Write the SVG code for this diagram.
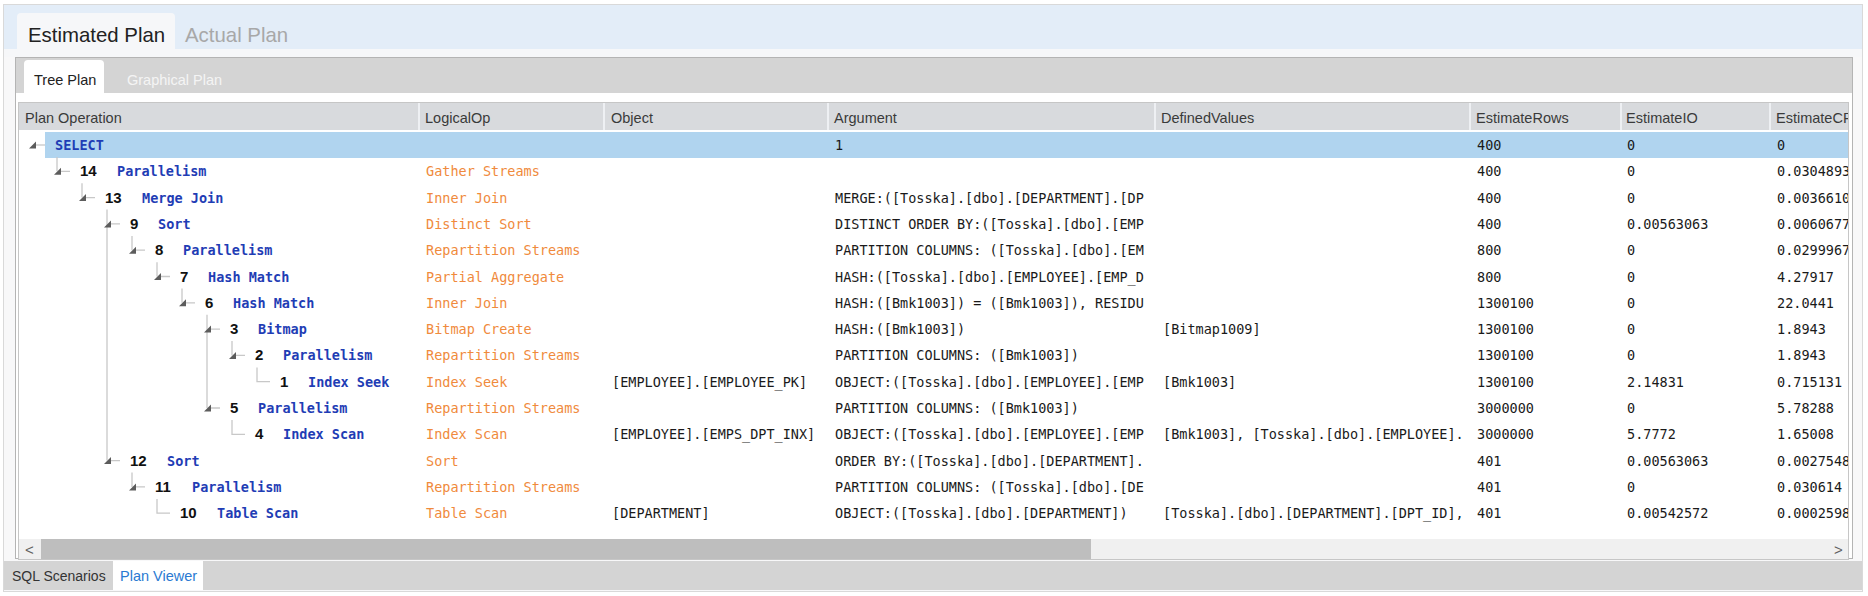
<svg xmlns="http://www.w3.org/2000/svg" width="1868" height="596" viewBox="0 0 1868 596">
<defs>
<style>
.mono{font-family:"DejaVu Sans Mono","Liberation Mono",monospace;font-size:13.5px;fill:#1a1a1a}
.name{font-family:"DejaVu Sans Mono","Liberation Mono",monospace;font-size:13.5px;font-weight:bold;fill:#1f3db5}
.num{font-family:"Liberation Sans",Arial,sans-serif;font-size:15px;font-weight:bold;fill:#111}
.op{fill:#f08a3c}
.hdr{font-family:"Liberation Sans",Arial,sans-serif;font-size:14.5px;fill:#3a3a3a}
.ui{font-family:"Liberation Sans",Arial,sans-serif}
.tl{stroke:#c8c8c8;stroke-width:1.3;fill:none}
.tri{fill:#5c5c5c}
.sep{stroke:#eef0f3;stroke-width:2}
</style>
<clipPath id="cArg"><rect x="828" y="100" width="324" height="440"/></clipPath>
<clipPath id="cDef"><rect x="1155" y="100" width="312" height="440"/></clipPath>
<clipPath id="cCpu"><rect x="1770" y="100" width="78" height="440"/></clipPath>
</defs>

<!-- chrome -->
<rect x="0" y="0" width="1868" height="596" fill="#ffffff"/>
<rect x="3.5" y="4.5" width="1859" height="587" fill="#f8f8f9" stroke="#d9d9d9"/>
<rect x="4" y="5" width="1858" height="44" fill="#e3edf8"/>
<path d="M17,49 V17 Q17,13 21,13 H171 Q175,13 175,17 V49 Z" fill="#f6f7f9"/>
<rect x="4" y="49" width="1858" height="8" fill="#f6f7f9"/>
<text class="ui" x="28" y="42" font-size="20.4" fill="#222">Estimated Plan</text>
<text class="ui" x="185" y="42" font-size="20.4" fill="#a8a8a8">Actual Plan</text>

<rect x="15.5" y="57.5" width="1837" height="501" fill="#ffffff" stroke="#b4b4b4"/>
<rect x="16" y="58" width="1836" height="35" fill="#d4d4d4"/>
<path d="M24,93 V64 Q24,60 28,60 H100 Q104,60 104,64 V93 Z" fill="#ffffff"/>
<text class="ui" x="34" y="85" font-size="14.5" fill="#222">Tree Plan</text>
<text class="ui" x="127" y="85" font-size="14.5" fill="#f4f4f4">Graphical Plan</text>

<!-- table -->
<rect x="18.5" y="102.5" width="1830" height="457" fill="#ffffff" stroke="#c6c6c6"/>
<rect x="19" y="103" width="1829" height="27" fill="#d8dadd"/>
<g>
<line class="sep" x1="419" y1="103" x2="419" y2="130"/>
<line class="sep" x1="604" y1="103" x2="604" y2="130"/>
<line class="sep" x1="828" y1="103" x2="828" y2="130"/>
<line class="sep" x1="1155" y1="103" x2="1155" y2="130"/>
<line class="sep" x1="1470" y1="103" x2="1470" y2="130"/>
<line class="sep" x1="1621" y1="103" x2="1621" y2="130"/>
<line class="sep" x1="1770" y1="103" x2="1770" y2="130"/>
</g>
<g>
<text class="hdr" x="25" y="123">Plan Operation</text>
<text class="hdr" x="425" y="123">LogicalOp</text>
<text class="hdr" x="611" y="123">Object</text>
<text class="hdr" x="834" y="123">Argument</text>
<text class="hdr" x="1161" y="123">DefinedValues</text>
<text class="hdr" x="1476" y="123">EstimateRows</text>
<text class="hdr" x="1626" y="123">EstimateIO</text>
<text class="hdr" x="1776" y="123" clip-path="url(#cCpu)">EstimateCP</text>
</g>
<rect x="45" y="132" width="1803" height="26" fill="#b0d4ef"/>

<!-- connectors -->
<g id="connectors">
<path class="tl" d="M36,145 H45"/>
<path class="tl" d="M57,157 V171.3 M61,171.3 H70"/>
<path class="tl" d="M82,183.3 V197.6 M86,197.6 H95"/>
<path class="tl" d="M107,209.6 V460.6 M111,223.9 H120 M111,460.6 H120"/>
<path class="tl" d="M132,235.9 V250.2 M136,250.2 H145"/>
<path class="tl" d="M157,262.2 V276.5 M161,276.5 H170"/>
<path class="tl" d="M182,288.5 V302.8 M186,302.8 H195"/>
<path class="tl" d="M207,314.8 V408 M211,329.1 H220 M211,408 H220"/>
<path class="tl" d="M232,341.1 V355.4 M236,355.4 H245"/>
<path class="tl" d="M257,367.4 V381.7 H270"/>
<path class="tl" d="M232,420 V434.3 H245"/>
<path class="tl" d="M132,472.6 V486.9 M136,486.9 H145"/>
<path class="tl" d="M157,498.9 V513.2 H170"/>
<polygon class="tri" points="29,148.5 36,148.5 36,141.5"/>
<polygon class="tri" points="54,174.8 61,174.8 61,167.8"/>
<polygon class="tri" points="79,201.1 86,201.1 86,194.1"/>
<polygon class="tri" points="104,227.4 111,227.4 111,220.4"/>
<polygon class="tri" points="129,253.7 136,253.7 136,246.7"/>
<polygon class="tri" points="154,280 161,280 161,273"/>
<polygon class="tri" points="179,306.3 186,306.3 186,299.3"/>
<polygon class="tri" points="204,332.6 211,332.6 211,325.6"/>
<polygon class="tri" points="229,358.9 236,358.9 236,351.9"/>
<polygon class="tri" points="204,411.5 211,411.5 211,404.5"/>
<polygon class="tri" points="104,464.1 111,464.1 111,457.1"/>
<polygon class="tri" points="129,490.4 136,490.4 136,483.4"/>
</g>

<!-- rows -->
<g id="node-select">
<text class="name" x="55" y="150">SELECT</text>
<text class="mono" x="835" y="150">1</text>
<text class="mono" x="1477" y="150">400</text>
<text class="mono" x="1627" y="150">0</text>
<text class="mono" x="1777" y="150">0</text>
</g>
<g id="node-14">
<text class="num" x="80" y="176.3">14</text>
<text class="name" x="117" y="176.3">Parallelism</text>
<text class="mono op" x="426" y="176.3">Gather Streams</text>
<text class="mono" x="1477" y="176.3">400</text>
<text class="mono" x="1627" y="176.3">0</text>
<text class="mono" x="1777" y="176.3" clip-path="url(#cCpu)">0.0304893</text>
</g>
<g id="node-13">
<text class="num" x="105" y="202.6">13</text>
<text class="name" x="142" y="202.6">Merge Join</text>
<text class="mono op" x="426" y="202.6">Inner Join</text>
<text class="mono" x="835" y="202.6" clip-path="url(#cArg)">MERGE:([Tosska].[dbo].[DEPARTMENT].[DP</text>
<text class="mono" x="1477" y="202.6">400</text>
<text class="mono" x="1627" y="202.6">0</text>
<text class="mono" x="1777" y="202.6" clip-path="url(#cCpu)">0.0036610</text>
</g>
<g id="node-9">
<text class="num" x="130" y="228.9">9</text>
<text class="name" x="158" y="228.9">Sort</text>
<text class="mono op" x="426" y="228.9">Distinct Sort</text>
<text class="mono" x="835" y="228.9" clip-path="url(#cArg)">DISTINCT ORDER BY:([Tosska].[dbo].[EMP</text>
<text class="mono" x="1477" y="228.9">400</text>
<text class="mono" x="1627" y="228.9">0.00563063</text>
<text class="mono" x="1777" y="228.9" clip-path="url(#cCpu)">0.0060677</text>
</g>
<g id="node-8">
<text class="num" x="155" y="255.2">8</text>
<text class="name" x="183" y="255.2">Parallelism</text>
<text class="mono op" x="426" y="255.2">Repartition Streams</text>
<text class="mono" x="835" y="255.2" clip-path="url(#cArg)">PARTITION COLUMNS: ([Tosska].[dbo].[EM</text>
<text class="mono" x="1477" y="255.2">800</text>
<text class="mono" x="1627" y="255.2">0</text>
<text class="mono" x="1777" y="255.2" clip-path="url(#cCpu)">0.0299967</text>
</g>
<g id="node-7">
<text class="num" x="180" y="281.5">7</text>
<text class="name" x="208" y="281.5">Hash Match</text>
<text class="mono op" x="426" y="281.5">Partial Aggregate</text>
<text class="mono" x="835" y="281.5" clip-path="url(#cArg)">HASH:([Tosska].[dbo].[EMPLOYEE].[EMP_D</text>
<text class="mono" x="1477" y="281.5">800</text>
<text class="mono" x="1627" y="281.5">0</text>
<text class="mono" x="1777" y="281.5">4.27917</text>
</g>
<g id="node-6">
<text class="num" x="205" y="307.8">6</text>
<text class="name" x="233" y="307.8">Hash Match</text>
<text class="mono op" x="426" y="307.8">Inner Join</text>
<text class="mono" x="835" y="307.8" clip-path="url(#cArg)">HASH:([Bmk1003]) = ([Bmk1003]), RESIDU</text>
<text class="mono" x="1477" y="307.8">1300100</text>
<text class="mono" x="1627" y="307.8">0</text>
<text class="mono" x="1777" y="307.8">22.0441</text>
</g>
<g id="node-3">
<text class="num" x="230" y="334.1">3</text>
<text class="name" x="258" y="334.1">Bitmap</text>
<text class="mono op" x="426" y="334.1">Bitmap Create</text>
<text class="mono" x="835" y="334.1">HASH:([Bmk1003])</text>
<text class="mono" x="1163" y="334.1">[Bitmap1009]</text>
<text class="mono" x="1477" y="334.1">1300100</text>
<text class="mono" x="1627" y="334.1">0</text>
<text class="mono" x="1777" y="334.1">1.8943</text>
</g>
<g id="node-2">
<text class="num" x="255" y="360.4">2</text>
<text class="name" x="283" y="360.4">Parallelism</text>
<text class="mono op" x="426" y="360.4">Repartition Streams</text>
<text class="mono" x="835" y="360.4">PARTITION COLUMNS: ([Bmk1003])</text>
<text class="mono" x="1477" y="360.4">1300100</text>
<text class="mono" x="1627" y="360.4">0</text>
<text class="mono" x="1777" y="360.4">1.8943</text>
</g>
<g id="node-1">
<text class="num" x="280" y="386.7">1</text>
<text class="name" x="308" y="386.7">Index Seek</text>
<text class="mono op" x="426" y="386.7">Index Seek</text>
<text class="mono" x="612" y="386.7">[EMPLOYEE].[EMPLOYEE_PK]</text>
<text class="mono" x="835" y="386.7" clip-path="url(#cArg)">OBJECT:([Tosska].[dbo].[EMPLOYEE].[EMP</text>
<text class="mono" x="1163" y="386.7">[Bmk1003]</text>
<text class="mono" x="1477" y="386.7">1300100</text>
<text class="mono" x="1627" y="386.7">2.14831</text>
<text class="mono" x="1777" y="386.7">0.715131</text>
</g>
<g id="node-5">
<text class="num" x="230" y="413">5</text>
<text class="name" x="258" y="413">Parallelism</text>
<text class="mono op" x="426" y="413">Repartition Streams</text>
<text class="mono" x="835" y="413">PARTITION COLUMNS: ([Bmk1003])</text>
<text class="mono" x="1477" y="413">3000000</text>
<text class="mono" x="1627" y="413">0</text>
<text class="mono" x="1777" y="413">5.78288</text>
</g>
<g id="node-4">
<text class="num" x="255" y="439.3">4</text>
<text class="name" x="283" y="439.3">Index Scan</text>
<text class="mono op" x="426" y="439.3">Index Scan</text>
<text class="mono" x="612" y="439.3">[EMPLOYEE].[EMPS_DPT_INX]</text>
<text class="mono" x="835" y="439.3" clip-path="url(#cArg)">OBJECT:([Tosska].[dbo].[EMPLOYEE].[EMP</text>
<text class="mono" x="1163" y="439.3" clip-path="url(#cDef)">[Bmk1003], [Tosska].[dbo].[EMPLOYEE].</text>
<text class="mono" x="1477" y="439.3">3000000</text>
<text class="mono" x="1627" y="439.3">5.7772</text>
<text class="mono" x="1777" y="439.3">1.65008</text>
</g>
<g id="node-12">
<text class="num" x="130" y="465.6">12</text>
<text class="name" x="167" y="465.6">Sort</text>
<text class="mono op" x="426" y="465.6">Sort</text>
<text class="mono" x="835" y="465.6" clip-path="url(#cArg)">ORDER BY:([Tosska].[dbo].[DEPARTMENT].</text>
<text class="mono" x="1477" y="465.6">401</text>
<text class="mono" x="1627" y="465.6">0.00563063</text>
<text class="mono" x="1777" y="465.6" clip-path="url(#cCpu)">0.0027548</text>
</g>
<g id="node-11">
<text class="num" x="155" y="491.9">11</text>
<text class="name" x="192" y="491.9">Parallelism</text>
<text class="mono op" x="426" y="491.9">Repartition Streams</text>
<text class="mono" x="835" y="491.9" clip-path="url(#cArg)">PARTITION COLUMNS: ([Tosska].[dbo].[DE</text>
<text class="mono" x="1477" y="491.9">401</text>
<text class="mono" x="1627" y="491.9">0</text>
<text class="mono" x="1777" y="491.9">0.030614</text>
</g>
<g id="node-10">
<text class="num" x="180" y="518.2">10</text>
<text class="name" x="217" y="518.2">Table Scan</text>
<text class="mono op" x="426" y="518.2">Table Scan</text>
<text class="mono" x="612" y="518.2">[DEPARTMENT]</text>
<text class="mono" x="835" y="518.2">OBJECT:([Tosska].[dbo].[DEPARTMENT])</text>
<text class="mono" x="1163" y="518.2" clip-path="url(#cDef)">[Tosska].[dbo].[DEPARTMENT].[DPT_ID],</text>
<text class="mono" x="1477" y="518.2">401</text>
<text class="mono" x="1627" y="518.2">0.00542572</text>
<text class="mono" x="1777" y="518.2" clip-path="url(#cCpu)">0.0002598</text>
</g>

<!-- scrollbar -->
<rect x="19" y="539" width="1829" height="20" fill="#f0f0f0"/>
<rect x="41" y="539" width="1050" height="20" fill="#bebebe"/>
<text class="ui" x="25" y="555" font-size="15" fill="#606060">&lt;</text>
<text class="ui" x="1834" y="555" font-size="15" fill="#606060">&gt;</text>

<!-- bottom tabs -->
<rect x="4" y="561" width="1858" height="29" fill="#d4d4d4"/>
<rect x="113" y="561" width="90" height="29" fill="#ffffff"/>
<text class="ui" x="12" y="581" font-size="14" fill="#333">SQL Scenarios</text>
<text class="ui" x="120" y="581" font-size="14.5" fill="#2a7ad2">Plan Viewer</text>
</svg>
